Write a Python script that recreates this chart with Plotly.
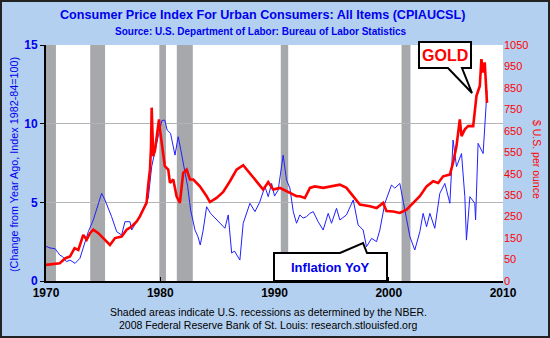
import plotly.graph_objects as go

# ---------------- data ----------------
cpi_years = [1970.0, 1970.35, 1970.8, 1971.2, 1971.45, 1971.8, 1972.1, 1972.54, 1972.97, 1973.26,
             1973.7, 1974.14, 1974.43, 1974.87, 1975.16, 1975.45, 1975.74, 1976.19, 1976.62, 1976.91,
             1977.35, 1977.5, 1977.94, 1978.3, 1978.66, 1978.95, 1979.25, 1979.54, 1979.85, 1980.15,
             1980.4, 1980.6, 1980.9, 1981.29, 1981.57, 1981.8, 1982.1, 1982.4, 1982.66, 1983.04,
             1983.3, 1983.5, 1983.75, 1984.06, 1984.4, 1984.93, 1985.3, 1985.66, 1985.95, 1986.25,
             1986.5, 1986.97, 1987.26, 1987.85, 1988.29, 1988.7, 1989.16, 1989.45, 1989.75, 1990.0,
             1990.32, 1990.76, 1991.05, 1991.35, 1991.64, 1991.93, 1992.22, 1992.5, 1992.8, 1993.1,
             1993.39, 1993.82, 1994.26, 1994.7, 1994.99, 1995.43, 1995.72, 1996.3, 1996.89, 1997.32,
             1997.76, 1998.05, 1998.5, 1998.93, 1999.22, 1999.66, 2000.24, 2000.53, 2000.97, 2001.26,
             2001.85, 2002.28, 2002.72, 2003.01, 2003.31, 2003.6, 2004.03, 2004.47, 2004.91, 2005.35,
             2005.63, 2005.93, 2006.37, 2006.66, 2006.8, 2007.1, 2007.53, 2007.6, 2007.82, 2008.26,
             2008.5, 2008.6]
cpi_values = [2.2, 2.1, 2.05, 1.65, 1.55, 1.23, 1.33, 1.12, 1.44, 2.18,
              3.13, 3.88, 4.51, 5.57, 5.15, 4.62, 4.09, 3.13, 2.92, 3.77,
              3.77, 3.24, 3.77, 4.3, 4.83, 5.26, 7.27, 8.33, 9.3, 10.2,
              10.23, 9.6, 9.39, 8.0, 9.17, 8.33, 7.27, 6.0, 4.51, 3.24,
              2.82, 2.29, 3.2, 4.72, 4.3, 3.88, 3.6, 3.35, 4.2, 1.78,
              1.9, 1.33, 3.67, 4.94, 4.41, 5.0, 6.0, 5.36, 6.2, 5.4,
              5.78, 8.0, 6.42, 5.9, 4.41, 3.67, 4.2, 4.0, 4.09, 4.3,
              4.41, 3.77, 3.24, 4.3, 3.67, 4.62, 3.88, 4.2, 5.15, 3.56,
              3.24, 2.18, 2.71, 2.5, 3.24, 4.94, 6.1, 5.9, 6.2, 5.15,
              2.82, 1.97, 3.13, 4.3, 3.45, 4.3, 3.35, 5.57, 6.2, 4.94,
              8.96, 7.27, 8.1, 5.36, 2.6, 5.36, 4.94, 3.88, 8.75, 8.1,
              11.5, 12.1]

gold_years = [1970.0, 1970.6, 1971.2, 1971.7, 1972.1, 1972.5, 1972.83, 1973.26, 1973.56, 1973.85,
              1974.14, 1974.58, 1975.16, 1975.6, 1976.04, 1976.62, 1977.06, 1977.5, 1977.94, 1978.22,
              1978.5, 1978.8, 1978.95, 1979.1, 1979.19, 1979.25, 1979.32, 1979.39, 1979.54, 1979.7,
              1979.89, 1979.97, 1980.26, 1980.4, 1980.7, 1980.85, 1981.14, 1981.43, 1981.72, 1982.01,
              1982.31, 1982.6, 1982.89, 1983.47, 1984.06, 1984.35, 1984.93, 1985.22, 1985.51, 1986.1,
              1986.68, 1987.26, 1987.85, 1988.43, 1989.01, 1989.45, 1989.89, 1990.47, 1991.35, 1991.93,
              1992.22, 1992.66, 1993.1, 1993.53, 1994.26, 1995.14, 1995.72, 1996.3, 1996.89, 1997.47,
              1998.35, 1998.93, 1999.51, 1999.8, 2000.39, 2000.97, 2001.56, 2002.14, 2002.72, 2003.31,
              2003.89, 2004.33, 2004.76, 2005.35, 2005.63, 2005.93, 2006.22, 2006.37, 2006.66, 2006.95,
              2007.39, 2007.68, 2007.97, 2008.11, 2008.26, 2008.4, 2008.55, 2008.6]
gold_values = [25, 28, 33, 56, 64, 103, 95, 165, 142, 173,
               189, 173, 142, 118, 150, 157, 189, 204, 228, 251,
               282, 314, 399, 469, 572, 758, 640, 532, 560, 640,
               703, 657, 548, 485, 469, 407, 423, 345, 314, 454,
               469, 423, 423, 391, 345, 318, 337, 352, 365, 415,
               469, 490, 450, 411, 376, 411, 376, 384, 360, 345,
               345, 337, 384, 391, 384, 391, 399, 384, 345, 306,
               298, 290, 314, 276, 274, 267, 282, 314, 345, 391,
               415, 407, 438, 446, 501, 579, 703, 625, 657, 672,
               672, 813, 859, 984, 922, 969, 859, 780]

recession_start = [1969.92, 1973.87, 1979.92, 1981.45, 1990.55, 2001.12]
recession_end = [1970.87, 1975.17, 1980.5, 1982.85, 1991.2, 2001.9]

x_ticks = [1970, 1980, 1990, 2000, 2010]
left_ticks = [0, 5, 10, 15]
right_tick_vals = [-50, 50, 150, 250, 350, 450, 550, 650, 750, 850, 950, 1050]
right_tick_text = ["0", "50", "150", "250", "350", "450", "550", "650", "750", "850", "950", "1050"]

# ---------------- layout helpers ----------------
W, H = 550, 338
L, R, T, B = 46, 47, 45, 57
PW, PH = W - L - R, H - T - B


def px(x):
    return (x - L) / PW


def py(y):
    return (H - B - y) / PH


FONT = "Liberation Sans, Arial, sans-serif"
BLUE = "#0000EE"
RED = "#FF0000"

fig = go.Figure()
fig.add_trace(go.Scatter(x=cpi_years, y=cpi_values, mode="lines",
                         line=dict(color="#2020FF", width=1), yaxis="y", showlegend=False,
                         hoverinfo="skip"))
fig.add_trace(go.Scatter(x=gold_years, y=gold_values, mode="lines",
                         line=dict(color=RED, width=2.6), yaxis="y2", showlegend=False,
                         hoverinfo="skip"))

shapes = []
for s, e in zip(recession_start, recession_end):
    shapes.append(dict(type="rect", xref="x", yref="paper", x0=max(s, 1970), x1=e, y0=0, y1=1,
                       fillcolor="#A7A8AC", line=dict(width=0), layer="below"))


def path_from(points):
    return "M " + " L ".join(f"{px(a):.4f},{py(b):.4f}" for a, b in points) + " Z"


# GOLD callout
shapes.append(dict(type="path", xref="paper", yref="paper",
                   path=path_from([(419, 42), (471, 42), (471, 68), (462, 68), (472, 93),
                                   (448, 68), (419, 68)]),
                   fillcolor="white", line=dict(color="black", width=2), layer="above"))
# Inflation callout
shapes.append(dict(type="path", xref="paper", yref="paper",
                   path=path_from([(274, 253), (340, 253), (363, 243), (367, 253), (387, 253),
                                   (387, 281), (274, 281)]),
                   fillcolor="white", line=dict(color="black", width=2), layer="above"))
# outer frame
shapes.append(dict(type="rect", xref="paper", yref="paper",
                   x0=px(1), x1=px(W - 1), y0=py(H - 1), y1=py(1),
                   fillcolor="rgba(0,0,0,0)", line=dict(color="#222222", width=2), layer="above"))

annotations = [
    dict(text="<b>Consumer Price Index For Urban Consumers: All Items (CPIAUCSL)</b>",
         x=px(262), y=py(15), xref="paper", yref="paper", showarrow=False,
         font=dict(family=FONT, size=12.6, color=BLUE), xanchor="center", yanchor="middle"),
    dict(text="<b>Source: U.S. Department of Labor: Bureau of Labor Statistics</b>",
         x=px(261), y=py(32), xref="paper", yref="paper", showarrow=False,
         font=dict(family=FONT, size=10, color=BLUE), xanchor="center", yanchor="middle"),
    dict(text="(Change from Year Ago, Index 1982-84=100)", textangle=-90,
         x=px(14), y=py(165), xref="paper", yref="paper", showarrow=False,
         font=dict(family=FONT, size=10.8, color=BLUE), xanchor="center", yanchor="middle"),
    dict(text="$ U.S. per ounce", textangle=90,
         x=px(537), y=py(159), xref="paper", yref="paper", showarrow=False,
         font=dict(family=FONT, size=10.5, color=RED), xanchor="center", yanchor="middle"),
    dict(text="<b>GOLD</b>", x=px(445), y=py(55), xref="paper", yref="paper", showarrow=False,
         font=dict(family=FONT, size=16, color=RED), xanchor="center", yanchor="middle"),
    dict(text="<b>Inflation YoY</b>", x=px(330), y=py(267), xref="paper", yref="paper",
         showarrow=False, font=dict(family=FONT, size=13, color=BLUE),
         xanchor="center", yanchor="middle"),
    dict(text="Shaded areas indicate U.S. recessions as determined by the NBER.",
         x=px(268), y=py(312), xref="paper", yref="paper", showarrow=False,
         font=dict(family=FONT, size=10.5, color="black"), xanchor="center", yanchor="middle"),
    dict(text="2008 Federal Reserve Bank of St. Louis: research.stlouisfed.org",
         x=px(268), y=py(325), xref="paper", yref="paper", showarrow=False,
         font=dict(family=FONT, size=10.5, color="black"), xanchor="center", yanchor="middle"),
]

fig.update_layout(
    width=W, height=H,
    margin=dict(l=L, r=R, t=T, b=B, pad=0),
    paper_bgcolor="#B4D0F0",
    plot_bgcolor="white",
    font=dict(family=FONT),
    shapes=shapes,
    annotations=annotations,
    xaxis=dict(range=[1970, 2010], tickvals=x_ticks, ticktext=[str(v) for v in x_ticks],
               showgrid=False, zeroline=False, showline=True, linecolor="black", linewidth=2,
               ticks="inside", ticklen=4, tickcolor="black",
               tickfont=dict(family=FONT, size=12, color="black", weight="bold")),
    yaxis=dict(range=[0, 15], tickvals=left_ticks, showgrid=True, gridcolor="#B4B4B4",
               gridwidth=1, zeroline=False, showline=True, linecolor="black", linewidth=2,
               ticks="outside", ticklen=4, tickcolor="black",
               tickfont=dict(family=FONT, size=12, color=BLUE, weight="bold")),
    yaxis2=dict(range=[-50, 1050], overlaying="y", side="right", tickvals=right_tick_vals,
                ticktext=right_tick_text, showgrid=False, zeroline=False, showline=False,
                ticks="", tickfont=dict(family=FONT, size=11, color=RED)),
)

fig.write_html("out.html")
